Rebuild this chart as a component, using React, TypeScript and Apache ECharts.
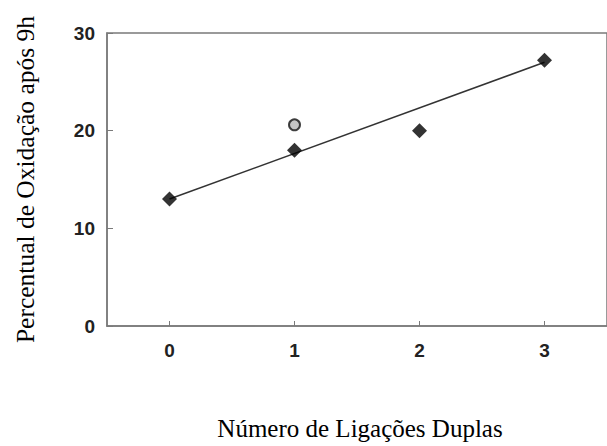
import React, { useEffect, useRef } from "react";
import * as echarts from "echarts";

const xTicks = [0, 1, 2, 3];
const diamondX = [0, 1, 2, 3];
const diamondY = [13, 18, 20, 27.2];
const circleX = [1];
const circleY = [20.6];
const fitX = [0, 3];
const fitY = [13, 27];
const xName = "Número de Ligações Duplas";
const yName = "Percentual de Oxidação após 9h";

export default function App() {
  const ref = useRef<HTMLDivElement>(null);
  useEffect(() => {
    if (!ref.current) return;
    const chart = echarts.init(ref.current, undefined, { renderer: "svg" });
    const axisColor = "#7a7a7a";
    const labelStyle = {
      color: "#222",
      fontFamily: "Liberation Sans, Arial, sans-serif",
      fontSize: 19,
      fontWeight: "bold" as const,
    };
    chart.setOption({
      animation: false,
      backgroundColor: "#fff",
      grid: {
        left: 107,
        top: 33,
        width: 503,
        height: 297,
        show: true,
        borderColor: axisColor,
        borderWidth: 1.5,
      },
      xAxis: {
        type: "value",
        min: -0.5,
        max: 3.5,
        interval: 0.5,
        name: xName,
        nameLocation: "middle",
        nameGap: 90,
        nameTextStyle: {
          fontFamily: "Liberation Serif, Times New Roman, serif",
          fontSize: 25,
          color: "#000",
          padding: [0, 0, 0, 6],
        },
        axisLine: { show: true, onZero: false, lineStyle: { color: axisColor, width: 1.5 } },
        axisTick: {
          show: true,
          inside: true,
          length: 5,
          lineStyle: { color: axisColor },
          customValues: xTicks,
        },
        axisLabel: {
          ...labelStyle,
          margin: 15,
          customValues: xTicks,
          formatter: (v: number) => String(v),
        },
        splitLine: { show: false },
      },
      yAxis: {
        type: "value",
        min: 0,
        max: 30,
        interval: 10,
        name: yName,
        nameLocation: "middle",
        nameRotate: 90,
        nameGap: 69,
        nameTextStyle: {
          fontFamily: "Liberation Serif, Times New Roman, serif",
          fontSize: 25.5,
          color: "#000",
        },
        axisLine: { show: true, onZero: false, lineStyle: { color: axisColor, width: 1.5 } },
        axisTick: { show: true, inside: true, length: 6, lineStyle: { color: axisColor } },
        axisLabel: { ...labelStyle, margin: 12 },
        splitLine: { show: false },
      },
      series: [
        {
          type: "line",
          data: fitX.map((x, i) => [x, fitY[i]]),
          showSymbol: false,
          symbol: "none",
          lineStyle: { color: "#333", width: 1.5 },
          z: 2,
        },
        {
          type: "scatter",
          data: diamondX.map((x, i) => [x, diamondY[i]]),
          symbol: "diamond",
          symbolSize: [15, 15],
          itemStyle: { color: "#000" },
          z: 3,
        },
        {
          type: "scatter",
          data: circleX.map((x, i) => [x, circleY[i]]),
          symbol: "circle",
          symbolSize: 11,
          itemStyle: { color: "#b5b5b5", borderColor: "#111", borderWidth: 2 },
          z: 3,
        },
      ],
    });
    return () => chart.dispose();
  }, []);
  return (
    <div
      ref={ref}
      style={{ position: "fixed", left: 0, top: 0, width: 607, height: 446, background: "#fff" }}
    />
  );
}
